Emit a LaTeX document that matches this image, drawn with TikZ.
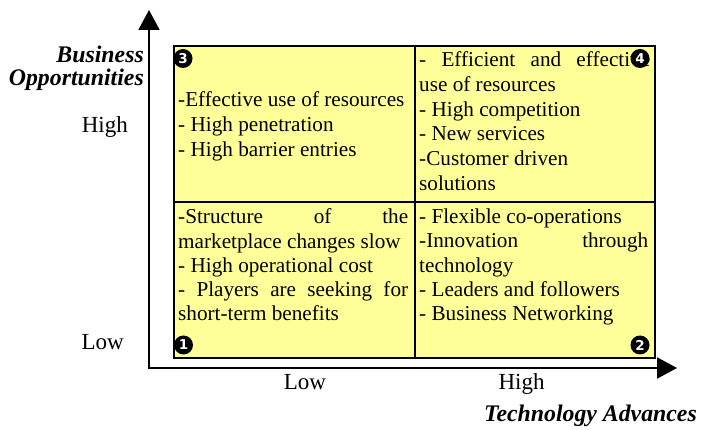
\documentclass[tikz,border=0pt]{standalone}
\usepackage{fontspec}
\setmainfont{Liberation Serif}
\newfontfamily\badgefont{DejaVu Sans}
\usetikzlibrary{arrows.meta}
\definecolor{cellyellow}{RGB}{255,255,153}
\tikzset{
  cell/.style={draw=black, line width=1.6pt, fill=cellyellow, inner sep=0pt, anchor=north west},
  axis/.style={line width=2pt, -{Triangle[width=21pt,length=20pt]}},
  ctext/.style={anchor=base west, inner sep=0pt, font=\fontsize{21.2}{24.5}\selectfont},
  alabel/.style={inner sep=0pt, font=\fontsize{23}{27}\selectfont},
  atitle/.style={inner sep=0pt, font=\fontsize{23.8}{27}\selectfont\bfseries\itshape},
  badge/.style={circle, fill=black, text=white, inner sep=0pt, minimum size=19pt, font=\badgefont\bfseries\fontsize{13.5}{13.5}\selectfont}
}
\begin{document}
\begin{tikzpicture}[x=1pt,y=-1pt]
\useasboundingbox (0,0) rectangle (710,430);
% axes
\coordinate (O) at (149,368);
\coordinate (ytip) at (149,10);
\coordinate (xtip) at (677,368);
% cells
\node[cell, minimum width=241pt, minimum height=156pt] (q3) at (173,45) {};
\node[cell, minimum width=240pt, minimum height=156pt] (q4) at (414,45) {};
\node[cell, minimum width=241pt, minimum height=156pt] (q1) at (173,201) {};
\node[cell, minimum width=240pt, minimum height=156pt] (q2) at (414,201) {};
\draw[axis] (O) -- (ytip);
\draw[axis] ([xshift=-1pt]O) -- (xtip);
% top-left
\node[ctext] (t31) at (178,107) {-Effective use of resources};
\node[ctext] (t32) at (178,132) {- High penetration};
\node[ctext] (t33) at (178,157) {- High barrier entries};
% top-right
\node[ctext] (t41) at (419,67) {\makebox[231pt][s]{- Efficient and effective}};
\node[ctext] (t42) at (419,91.7) {use of resources};
\node[ctext] (t43) at (419,116.5) {- High competition};
\node[ctext] (t44) at (419,141) {- New services};
\node[ctext] (t45) at (419,166) {-Customer driven};
\node[ctext] (t46) at (419,190.7) {solutions};
% bottom-left
\node[ctext] (t11) at (178,223.3) {\makebox[230pt][s]{-Structure of the}};
\node[ctext] (t12) at (178,248.3) {marketplace changes slow};
\node[ctext] (t13) at (178,272.7) {- High operational cost};
\node[ctext] (t14) at (178,296.7) {\makebox[230pt][s]{- Players are seeking for}};
\node[ctext] (t15) at (178,321) {short-term benefits};
% bottom-right
\node[ctext] (t21) at (419,223.3) {- Flexible co-operations};
\node[ctext] (t22) at (419,248) {\makebox[229pt][s]{-Innovation through}};
\node[ctext] (t23) at (419,272.7) {technology};
\node[ctext] (t24) at (419,296.7) {- Leaders and followers};
\node[ctext] (t25) at (419,320.7) {- Business Networking};
% badges
\node[badge] (b3) at (183,58.5) {3};
\node[badge] (b4) at (640,58.5) {4};
\node[badge] (b1) at (183.5,345) {1};
\node[badge] (b2) at (640,345) {2};
% axis labels
\node[atitle, anchor=base east] (bo1) at (144,63) {Business};
\node[atitle, anchor=base east] (bo2) at (144,86) {Opportunities};
\node[alabel, anchor=base east] (yh) at (128,133) {High};
\node[alabel, anchor=base east] (yl) at (124,349.3) {Low};
\node[alabel, anchor=base] (xl) at (305,390) {Low};
\node[alabel, anchor=base] (xh) at (521.5,390) {High};
\node[atitle, anchor=base east] (ta) at (697,421.5) {Technology Advances};
\end{tikzpicture}
\end{document}
